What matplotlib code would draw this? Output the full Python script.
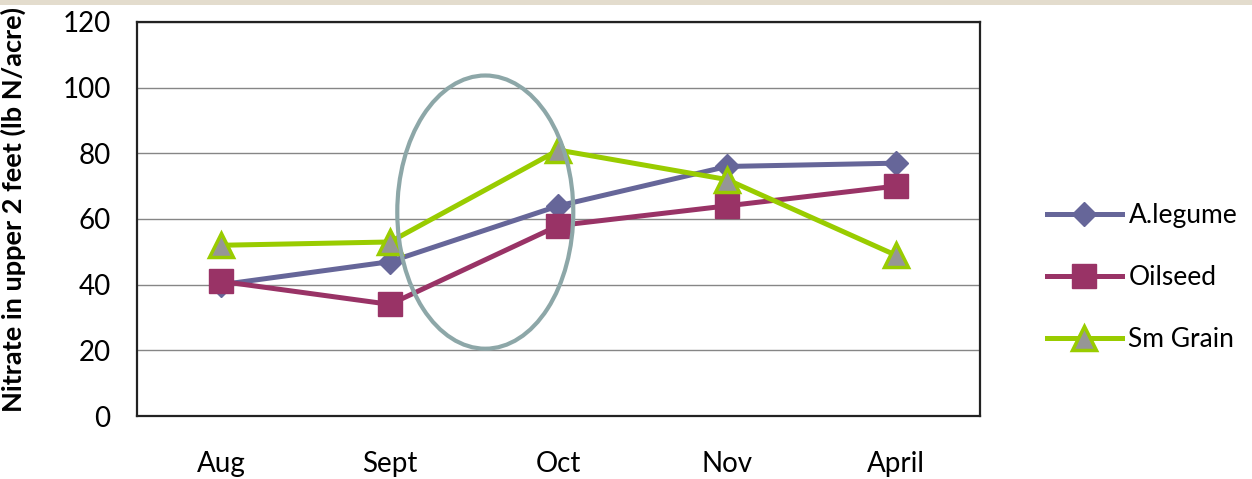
import matplotlib
matplotlib.use("Agg")
import matplotlib.pyplot as plt
from matplotlib.patches import Ellipse, Rectangle

# Sampling months and nitrate levels (lb N/acre) by cover crop group
months = ["Aug", "Sept", "Oct", "Nov", "April"]
legume = [40, 47, 64, 76, 77]
oilseed = [41, 34, 58, 64, 70]
sm_grain = [52, 53, 81, 72, 49]

plt.rcParams["font.family"] = ["Lato", "DejaVu Sans"]

fig = plt.figure(figsize=(12.52, 4.79), dpi=100)
fig.patch.set_facecolor("white")

# thin beige strip across the top of the slide
fig.patches.append(Rectangle((0, 0.989), 1, 0.011, transform=fig.transFigure,
                             facecolor="#e3dccd", edgecolor="none", zorder=0))

ax = fig.add_axes([0.1094, 0.1315, 0.6733, 0.8226])
x = range(len(months))

ax.plot(x, legume, color="#666699", lw=3.6, marker="D", ms=12.5,
        mfc="#666699", mec="#666699", label="A.legume", zorder=3)
ax.plot(x, oilseed, color="#993366", lw=3.6, marker="s", ms=17,
        mfc="#993366", mec="#993366", label="Oilseed", zorder=4)
ax.plot(x, sm_grain, color="#99cc00", lw=3.6, marker="^", ms=17,
        mfc="#969696", mec="#99cc00", mew=2.5, label="Sm Grain", zorder=5)

# highlight the Sept-Oct jump
ax.add_patch(Ellipse((1.566, 62.1), 1.044, 83.2, facecolor="none",
                     edgecolor="#8da7a8", lw=3, zorder=6, clip_on=False))

ax.set_xlim(-0.5, 4.5)
ax.set_ylim(0, 120)
ax.set_yticks(range(0, 121, 20))
ax.set_xticks(list(x))
ax.set_xticklabels(months)
ax.yaxis.grid(True, color="#868686", lw=1)
ax.set_axisbelow(True)
ax.tick_params(axis="both", length=0, labelsize=20)
ax.tick_params(axis="x", pad=25)
ax.tick_params(axis="y", pad=19)
for s in ax.spines.values():
    s.set_color("#222222")
    s.set_linewidth(1.6)

ax.set_ylabel("Nitrate in upper 2 feet (lb N/acre)", fontsize=19.5,
              fontweight="bold")
ax.yaxis.set_label_coords(-0.132, 0.525)

ax.legend(loc="center left", bbox_to_anchor=(0.817, 0.42),
          bbox_transform=fig.transFigure, frameon=False, fontsize=19,
          handlelength=2.85, handletextpad=0.25, labelspacing=1.4)

fig.savefig("out.png", dpi=100)
